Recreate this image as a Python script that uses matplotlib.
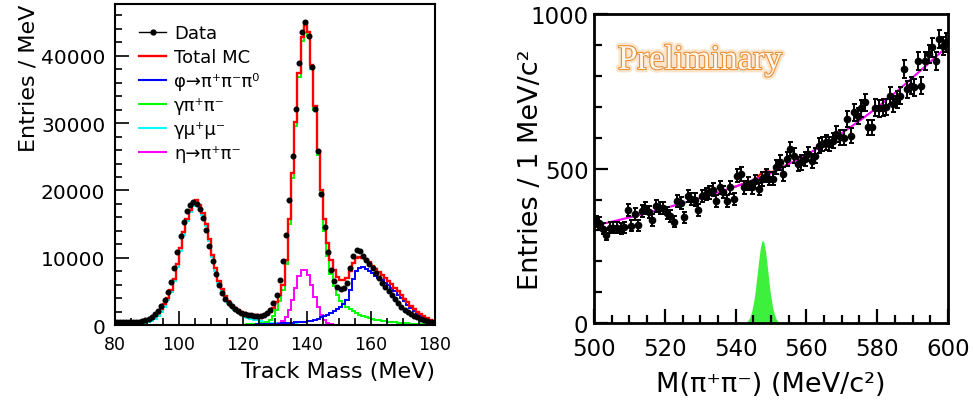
import numpy as np
import matplotlib
matplotlib.use("Agg")
import matplotlib.pyplot as plt
import matplotlib.patheffects as pe
from matplotlib.lines import Line2D
from matplotlib.ticker import MultipleLocator

plt.rcParams['font.family'] = ['DejaVu Sans']

# ---- left panel: track mass, 1 MeV bins from 80 to 180 ----
mass_edges = np.arange(80, 181)

total_mc = [350, 360, 370, 380, 400, 420, 440, 480, 550, 650,
            800, 1000, 1350, 1800, 2400, 3100, 4000, 5200, 6900, 9000,
            11400, 13800, 15800, 17100, 18100, 18600, 17900, 16700, 15000, 12800,
            10400, 8400, 6600, 5300, 4300, 3500, 2900, 2500, 2200, 1950,
            1750, 1650, 1550, 1500, 1450, 1450, 1500, 1650, 1950, 2500,
            3400, 4500, 6000, 9700, 15700, 22600, 30200, 37400, 42800, 45100,
            43500, 38700, 32500, 25900, 20000, 15700, 12200, 9700, 8200, 7100,
            6700, 6650, 7000, 8000, 9200, 9900, 10100, 10000, 9700, 9300,
            8750, 8300, 7860, 7430, 7000, 6550, 6050, 5550, 5000, 4450,
            3900, 3400, 2900, 2420, 2000, 1630, 1300, 1050, 780, 540]

phi_3pi = [20, 20, 20, 20, 20, 20, 20, 20, 20, 20,
           20, 20, 20, 20, 20, 20, 20, 20, 20, 20,
           20, 20, 20, 20, 25, 25, 25, 25, 25, 25,
           25, 25, 30, 30, 30, 30, 30, 35, 35, 35,
           40, 45, 55, 65, 80, 95, 110, 130, 150, 175,
           200, 225, 255, 285, 315, 350, 385, 420, 460, 500,
           540, 620, 720, 900, 1150, 1350, 1550, 1780, 2050, 2400,
           2700, 3100, 3700, 5200, 6900, 8000, 8500, 8550, 8350, 8050,
           7700, 7350, 7000, 6650, 6300, 5900, 5450, 5000, 4500, 4000,
           3500, 3000, 2550, 2100, 1700, 1350, 1050, 800, 580, 360]

gamma_pipi = [10, 10, 10, 10, 10, 10, 12, 12, 12, 12,
              14, 14, 15, 15, 16, 17, 18, 19, 20, 22,
              23, 25, 26, 28, 30, 32, 34, 36, 38, 40,
              42, 44, 46, 48, 50, 52, 54, 56, 58, 60,
              60, 80, 110, 150, 200, 260, 350, 500, 800, 1300,
              2200, 3500, 5200, 9000, 15000, 21900, 29600, 36800, 42200, 44500,
              42900, 38100, 31900, 25300, 19300, 14000, 10300, 7600, 5800, 4500,
              3600, 3100, 2700, 2350, 2050, 1750, 1500, 1300, 1150, 1020,
              900, 800, 710, 630, 560, 500, 440, 390, 345, 305,
              270, 235, 205, 180, 155, 135, 115, 100, 85, 70]

gamma_mumu = [100, 110, 120, 130, 145, 160, 180, 210, 250, 330,
              450, 620, 900, 1350, 1950, 2700, 3650, 4850, 6550, 8650,
              11050, 13450, 15450, 16750, 17750, 18200, 17550, 16350, 14650, 12450,
              10050, 8050, 6300, 5000, 4000, 3250, 2650, 2250, 1950, 1700,
              1250, 1080, 930, 800, 690, 590, 500, 420, 350, 290,
              240, 200, 170, 140, 120, 100, 85, 75, 65, 58,
              52, 48, 44, 41, 38, 36, 34, 32, 30, 28,
              27, 26, 25, 24, 23, 22, 22, 21, 21, 20,
              20, 19, 19, 18, 18, 18, 17, 17, 17, 16,
              16, 16, 15, 15, 15, 15, 14, 14, 14, 14]

eta_pipi = [0] * 45 + [20, 30, 50, 80, 120,
                       200, 350, 600, 1200, 2200, 3700, 5500, 7300, 8200, 8250,
                       7400, 6000, 4200, 2700, 1500, 750, 330, 130, 50, 20,
                       10, 5] + [0] * 28

track_data = [380, 390, 400, 410, 430, 450, 470, 520, 600, 750,
              950, 1200, 1600, 2150, 2850, 3700, 4900, 6400, 8400, 10800,
              13200, 15300, 16900, 17900, 18300, 18000, 17200, 15900, 14100, 11800,
              9500, 7600, 6000, 4800, 3900, 3250, 2800, 2400, 2100, 1850,
              1650, 1520, 1430, 1380, 1360, 1400, 1490, 1800, 2240, 3230,
              4480, 6620, 9450, 13430, 18650, 25100, 32100, 39000, 43500, 45100,
              43000, 38300, 32100, 25900, 19500, 14600, 10800, 8200, 6600, 5700,
              5400, 5500, 6300, 8400, 10200, 11100, 11000, 10300, 9700, 9100,
              8400, 7700, 7000, 6300, 5600, 5000, 4400, 3800, 3250, 2750,
              2250, 1900, 1600, 1350, 1120, 920, 760, 630, 520, 420]

# ---- right panel: M(pi+pi-), 1 MeV bins from 500 to 600 ----
mpp_centers = np.arange(500.5, 600.0, 1.0)
mpp_counts = [330, 325, 305, 285, 308, 308, 308, 306, 310, 366,
              315, 353, 316, 362, 372, 360, 334, 378, 374, 372,
              356, 347, 328, 394, 388, 342, 412, 402, 400, 366,
              412, 418, 423, 432, 396, 439, 424, 396, 440, 402,
              477, 483, 440, 451, 440, 459, 434, 466, 477, 468,
              468, 505, 520, 482, 530, 564, 542, 515, 520, 531,
              548, 526, 542, 574, 580, 585, 580, 591, 612, 602,
              600, 661, 607, 682, 671, 695, 715, 634, 634, 698,
              695, 698, 700, 736, 709, 725, 736, 823, 758, 769,
              764, 850, 769, 850, 871, 893, 850, 920, 898, 909]

bkg_x = [500, 505, 510, 515, 520, 525, 530, 535, 540, 545, 550,
         555, 560, 565, 570, 575, 580, 585, 590, 595, 600]
bkg_fit = [315, 328, 342, 356, 372, 388, 405, 423, 442, 463, 485,
           515, 545, 578, 615, 655, 698, 745, 795, 846, 898]

sig_fit_x = [540, 545, 546, 547, 548, 549, 550, 551, 552, 555]
sig_fit = [442, 463, 470, 482, 490, 492, 489, 492, 498, 515]

mc_x = [543.0, 543.5, 544.0, 544.5, 545.0, 545.5, 546.0, 546.5, 547.0, 547.5,
        548.0, 548.5, 549.0, 549.5, 550.0, 550.5, 551.0, 551.5, 552.0, 552.5]
mc_signal = [3, 8, 18, 35, 62, 100, 150, 200, 245, 268,
             262, 228, 178, 126, 82, 48, 26, 12, 5, 2]

fig = plt.figure(figsize=(9.73, 4.06), dpi=100)
ax1 = fig.add_axes([0.1182, 0.197, 0.3289, 0.7906])
ax2 = fig.add_axes([0.6105, 0.202, 0.3638, 0.7603])

# left histograms
ax1.stairs(gamma_mumu, mass_edges, color='#00ffff', lw=1.4)
ax1.stairs(gamma_pipi, mass_edges, color='#00ff00', lw=1.4)
ax1.stairs(eta_pipi, mass_edges, color='#ff00ff', lw=1.4)
ax1.stairs(phi_3pi, mass_edges, color='#0000ff', lw=1.4)
ax1.stairs(total_mc, mass_edges, color='#ff0000', lw=1.7)
ax1.plot(mass_edges[:-1] + 0.5, track_data, 'o', color='k', ms=3.3, zorder=5)

ax1.set_xlim(80, 180)
ax1.set_ylim(0, 47700)
ax1.xaxis.set_major_locator(MultipleLocator(20))
ax1.xaxis.set_minor_locator(MultipleLocator(5))
ax1.yaxis.set_major_locator(MultipleLocator(10000))
ax1.yaxis.set_minor_locator(MultipleLocator(2000))
ax1.tick_params(which='both', direction='in', top=False, right=False, width=1.2)
ax1.tick_params(which='major', length=10)
ax1.tick_params(which='minor', length=5)
ax1.tick_params(axis='x', labelsize=12.5, pad=7)
ax1.tick_params(axis='y', labelsize=14.5, pad=7)
for s in ax1.spines.values():
    s.set_linewidth(1.5)
ax1.set_xlabel('Track Mass (MeV)', fontsize=16, loc='right', labelpad=6)
ax1.set_ylabel('Entries / MeV', fontsize=16, loc='top', labelpad=2)

handles = [Line2D([], [], color='k', marker='o', ms=3.5, lw=1),
           Line2D([], [], color='#ff0000', lw=1.7),
           Line2D([], [], color='#0000ff', lw=1.5),
           Line2D([], [], color='#00ff00', lw=1.5),
           Line2D([], [], color='#00ffff', lw=1.5),
           Line2D([], [], color='#ff00ff', lw=1.5)]
labels = ['Data', 'Total MC', 'φ→π⁺π⁻π⁰', 'γπ⁺π⁻', 'γμ⁺μ⁻', 'η→π⁺π⁻']
ax1.legend(handles, labels, loc='upper left', bbox_to_anchor=(0.075, 0.937),
           frameon=False, borderpad=0, borderaxespad=0, handlelength=1.5,
           handletextpad=0.45, labelspacing=0.33, fontsize=13)

# right panel
ax2.fill_between(mc_x, mc_signal, color='#3cf03c', lw=0)
ax2.plot(sig_fit_x, sig_fit, color='#ff0000', lw=1.5)
ax2.plot(bkg_x, bkg_fit, color='#ff00ff', lw=1.5)
ax2.errorbar(mpp_centers, mpp_counts, yerr=np.sqrt(mpp_counts), fmt='o', color='k',
             ms=4.5, elinewidth=1.4, capsize=1.8, capthick=1.4, zorder=5)

ax2.set_xlim(500, 600)
ax2.set_ylim(0, 1000)
ax2.xaxis.set_major_locator(MultipleLocator(20))
ax2.xaxis.set_minor_locator(MultipleLocator(5))
ax2.yaxis.set_major_locator(MultipleLocator(500))
ax2.yaxis.set_minor_locator(MultipleLocator(100))
ax2.tick_params(which='both', direction='in', top=False, right=False, width=1.6)
ax2.tick_params(which='major', length=10)
ax2.tick_params(which='minor', length=5.5)
ax2.tick_params(axis='x', labelsize=16.5, pad=10)
ax2.tick_params(axis='y', labelsize=16.5, pad=4)
for s in ax2.spines.values():
    s.set_linewidth(2)
ax2.set_xlabel('M(π⁺π⁻) (MeV/c²)', fontsize=19.5, labelpad=8)
ax2.set_ylabel('Entries / 1 MeV/c²', fontsize=19.5)
ax2.yaxis.set_label_coords(-0.14, 0.5)

ax2.text(0.068, 0.823, 'Preliminary', transform=ax2.transAxes, fontsize=25,
         family='Liberation Serif', color='#fff8ee', va='baseline',
         path_effects=[pe.withStroke(linewidth=5, foreground='#f9d3a8', alpha=0.6),
                       pe.Stroke(linewidth=1.6, foreground='#e8913a'),
                       pe.Normal()])

fig.savefig('out.png', dpi=100)
